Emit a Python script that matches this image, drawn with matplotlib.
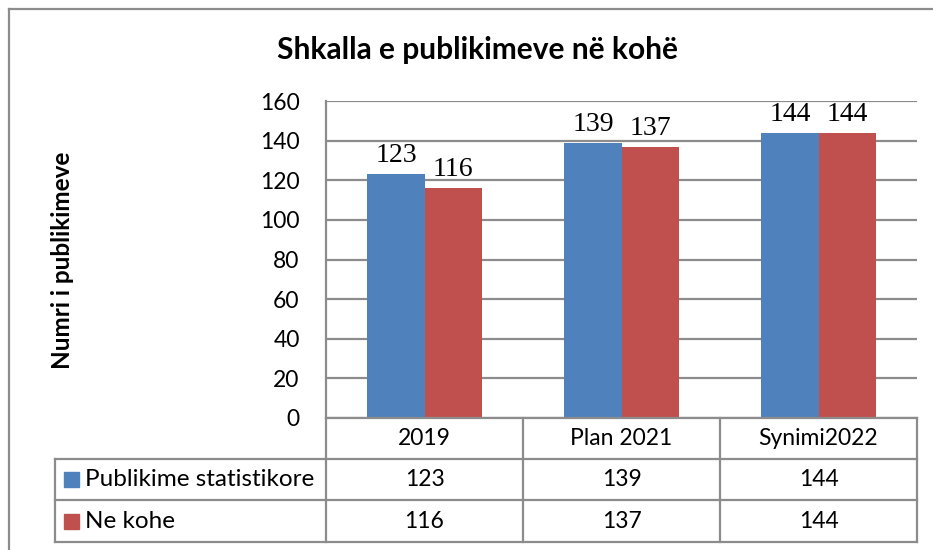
import matplotlib.pyplot as plt
from matplotlib.lines import Line2D
import numpy as np

# Data
categories = ['2019', 'Plan 2021', 'Synimi2022']
series_names = ['Publikime statistikore', 'Ne kohe']
publikime = [123, 139, 144]
ne_kohe = [116, 137, 144]
colors = ['#4F81BD', '#C0504D']
yticks = [0, 20, 40, 60, 80, 100, 120, 140, 160]

W, H = 933, 550
fig = plt.figure(figsize=(W / 100, H / 100), dpi=100)
plt.rcParams['font.family'] = ['Lato', 'DejaVu Sans']
grid_col = '#8C8C8C'
fs = 16.5


def fx(x):
    return x / W


def fy(y):
    return 1 - y / H


# main plot area (pixel layout)
L, R, T, B = 326, 917, 101, 418
ax = fig.add_axes([fx(L), fy(B), fx(R) - fx(L), fy(T) - fy(B)])

x = np.arange(len(categories))
w = 0.29
ax.bar(x - w / 2, publikime, w, color=colors[0], zorder=3)
ax.bar(x + w / 2, ne_kohe, w, color=colors[1], zorder=3)

for xi, v in zip(x, publikime):
    ax.text(xi - w / 2, v + 3, str(v), ha='center', va='bottom',
            family='Liberation Serif', fontsize=20)
for xi, v in zip(x, ne_kohe):
    ax.text(xi + w / 2, v + 3, str(v), ha='center', va='bottom',
            family='Liberation Serif', fontsize=20)

ax.set_xlim(-0.5, len(categories) - 0.5)
ax.set_ylim(0, 160)
ax.set_yticks(yticks)
ax.set_yticklabels([str(t) for t in yticks], fontsize=fs)
ax.set_xticks([])
ax.tick_params(axis='y', length=0, pad=19)
ax.yaxis.grid(True, color=grid_col, linewidth=1.6, zorder=0)
for s in ['top', 'right', 'bottom']:
    ax.spines[s].set_visible(False)
ax.spines['left'].set_color(grid_col)
ax.spines['left'].set_linewidth(1.6)

fig.text(fx(63), fy(260), 'Numri i publikimeve', rotation=90, ha='center',
         va='center', fontsize=17.5, fontweight='bold')
fig.text(fx(478), fy(50), 'Shkalla e publikimeve në kohë', ha='center',
         va='center', fontsize=21.5, fontweight='bold')

# outer chart border (cropped on right and bottom)
fig.add_artist(Line2D([fx(9), fx(9)], [fy(9), fy(550)], color='#8C8C8C', lw=1.6))
fig.add_artist(Line2D([fx(9), fx(933)], [fy(9), fy(9)], color='#8C8C8C', lw=1.6))

# data table under the chart
col_edges = [326, 523, 720, 917]
row_edges = [418, 459, 500, 542]
tl = 55
lw = 1.6


def hline(y, x0, x1):
    fig.add_artist(Line2D([fx(x0), fx(x1)], [fy(y), fy(y)], color=grid_col, lw=lw))


def vline(x0, y0, y1):
    fig.add_artist(Line2D([fx(x0), fx(x0)], [fy(y0), fy(y1)], color=grid_col, lw=lw))


hline(row_edges[0], col_edges[0], col_edges[-1])
for y in row_edges[1:]:
    hline(y, tl, col_edges[-1])
for xe in col_edges:
    vline(xe, row_edges[0], row_edges[-1])
vline(tl, row_edges[1], row_edges[-1])

for i, cat in enumerate(categories):
    cx = (col_edges[i] + col_edges[i + 1]) / 2
    fig.text(fx(cx), fy((row_edges[0] + row_edges[1]) / 2), cat,
             ha='center', va='center', fontsize=fs)

for r, (name, vals, c) in enumerate(zip(series_names, [publikime, ne_kohe], colors)):
    cy = (row_edges[r + 1] + row_edges[r + 2]) / 2
    fig.patches.append(plt.Rectangle((fx(64), fy(cy + 7.5)), fx(15), 15 / H,
                                     transform=fig.transFigure, color=c))
    fig.text(fx(85), fy(cy), name, ha='left', va='center', fontsize=17.5)
    for i, v in enumerate(vals):
        cx = (col_edges[i] + col_edges[i + 1]) / 2
        fig.text(fx(cx), fy(cy), str(v), ha='center', va='center', fontsize=fs)

fig.savefig('out.png', dpi=100)
